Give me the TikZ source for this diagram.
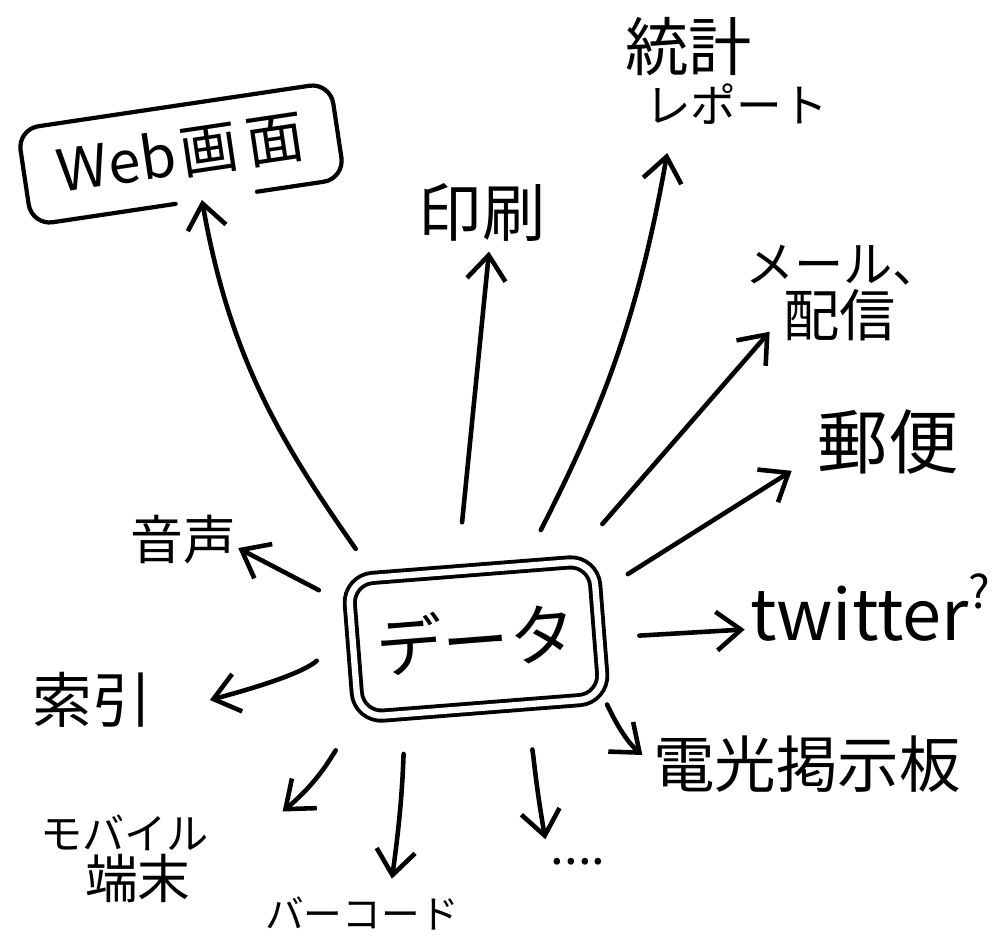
\documentclass[tikz,border=0pt]{standalone}
\usepackage{fontspec}
\setmainfont{Noto Sans CJK JP}
\usetikzlibrary{arrows.meta,calc}
\begin{document}
\begin{tikzpicture}[x=0.01cm,y=0.01cm,
  every node/.style={inner sep=0pt, outer sep=0pt},
  fs/.style={font=\fontsize{#1}{#1}\selectfont},
  boxline/.style={line width=1.2pt, line cap=round, line join=round},
  arr/.style={line width=1.3pt, line cap=round, line join=round,
    -{Straight Barb[length=7pt,width=11pt]}},
  databox/.style={draw, double, double distance=1.8pt, line width=1.1pt,
    rounded corners=7pt, rotate=4.5, minimum width=2.46cm, minimum height=1.38cm, fs=19}
]
\useasboundingbox (0,0) rectangle (1001,-951);

% central node
\node[databox] (data) at (476,-639) {データ};

% Web box (drawn with a gap where the arrow enters)
\node[rotate=8.5, minimum width=3.16cm, minimum height=0.97cm, fs=16.5] (web) at (181,-154) {Web\kern1.5pt 画\kern2.5pt 面};
\draw[boxline, rounded corners=6pt]
  ($(web.south west)!0.46!(web.south east)$) -- (web.south west) -- (web.north west)
  -- (web.north east) -- (web.south east) -- ($(web.south west)!0.72!(web.south east)$);

% labels
\node[fs=18] (insatsu) at (482,-212) {印刷};
\node[anchor=north west, align=left, font=\fontsize{18}{15}\selectfont] (toukei) at (625,-17)
  {統計\\\hspace{5.7pt}{\fontsize{13}{15}\selectfont レポート}};
\node[anchor=north west, align=left, font=\fontsize{16}{15.4}\selectfont] (meeru) at (745,-245)
  {{\fontsize{14}{15.4}\selectfont メール、}\\\hspace{11pt}配信};
\node[fs=20] (yuubin) at (888,-442) {郵便};
\node[anchor=base west, fs=20] (twitter) at (750,-640)
  {twitter\raisebox{9pt}{\fontsize{13}{13}\selectfont ?}};
\node[fs=17.5] (denkou) at (807,-764) {電光掲示板};
\node[fs=14] (dots) at (578,-862) {....};
\node[fs=11] (barcode) at (362,-913) {バーコード};
\node[anchor=north west, align=left, font=\fontsize{12}{14}\selectfont] (mobile) at (40,-815)
  {モバイル\\\hspace{12.8pt}{\fontsize{15}{14}\selectfont 端末}};
\node[fs=17] (sakuin) at (92,-700) {索引};
\node[fs=15] (onsei) at (183,-540) {音声};

% connectors
\draw[arr, shorten <=10pt] (data.144) to[out=125,in=-80] (web.-74);
\draw[arr, shorten <=14pt] (data.101) -- ([xshift=2pt,yshift=-3pt]insatsu.south);
\draw[arr, shorten <=11.5pt] (data.53) to[out=63,in=-100] ([xshift=12pt,yshift=-8pt]toukei.south west);
\draw[arr, shorten <=14.5pt] (data.35) -- ([xshift=7pt,yshift=-11pt]meeru.west);
\draw[arr, shorten <=10.7pt] (data.16) -- ([xshift=-7.4pt,yshift=1pt]yuubin.south west);
\draw[arr, shorten <=11.4pt] (data.-4) -- ([xshift=-1.5pt,yshift=3pt]twitter.base west);
\draw[arr, shorten <=2pt, shorten >=4pt] (data.south east) to[out=-65,in=140] (denkou.west);
\draw[arr, shorten <=13pt] (data.-58) to[out=-80,in=100] ([xshift=-1.5pt,yshift=5.5pt]dots.north west);
\draw[arr, shorten <=11.4pt] (data.-138) to[out=-92,in=82] ([xshift=8.5pt,yshift=5pt]barcode.north);
\draw[arr, shorten <=11.4pt] (data.south west) to[out=-125,in=40] ([xshift=21pt,yshift=1pt]mobile.north east);
\draw[arr, shorten <=13.4pt] (data.171) to[out=-138,in=15] ([xshift=16.5pt]sakuin.east);
\draw[arr, shorten <=10pt] (data.161) -- ([xshift=0.7pt,yshift=-2.3pt]onsei.east);
\end{tikzpicture}
\end{document}
